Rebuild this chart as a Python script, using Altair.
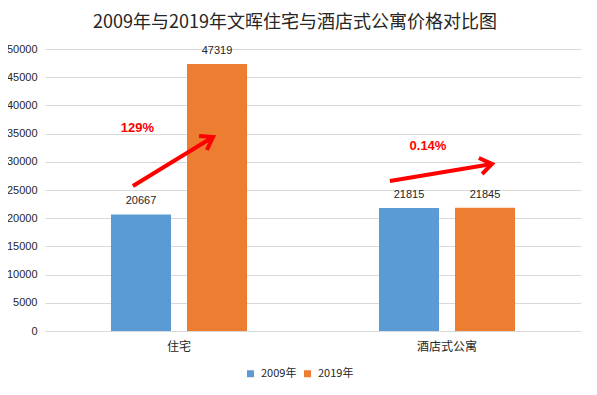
import altair as alt
import pandas as pd

# ---- data ----
categories = ["住宅", "酒店式公寓"]
years = ["2009年", "2019年"]
values_2009 = [20667, 21815]
values_2019 = [47319, 21845]
colors = ["#5b9bd5", "#ed7d31"]
y_ticks = [0, 5000, 10000, 15000, 20000, 25000, 30000, 35000, 40000, 45000, 50000]
title_text = "2009年与2019年文晖住宅与酒店式公寓价格对比图"

# growth annotations (x in category units: 0..2 across the plot)
pct_labels = ["129%", "0.14%"]
pct_x = [0.345, 1.429]
pct_y = [35990, 32800]

# arrow polylines (shaft + open head), x in category units, y in value units
arrow_seg = ["s1", "s1", "h1", "h1", "h1", "s2", "s2", "h2", "h2", "h2"]
arrow_ord = [0, 1, 0, 1, 2, 0, 1, 0, 1, 2]
arrow_x = [0.328, 0.627, 0.575, 0.627, 0.604, 1.287, 1.668, 1.619, 1.668, 1.631]
arrow_y = [25709, 34397, 34574, 34397, 32092, 26596, 29610, 30674, 29610, 27837]

rows = []
for c, v in zip(categories, values_2009):
    rows.append({"cat": c, "year": years[0], "value": v})
for c, v in zip(categories, values_2019):
    rows.append({"cat": c, "year": years[1], "value": v})
df = pd.DataFrame(rows)

pct_df = pd.DataFrame({"label": pct_labels, "px": pct_x, "py": pct_y})
arrow_df = pd.DataFrame({"seg": arrow_seg, "ord": arrow_ord, "ax": arrow_x, "ay": arrow_y})

x_scale = alt.Scale(domain=categories, paddingInner=0, paddingOuter=0)
off_scale = alt.Scale(domain=years, paddingInner=0.2105, paddingOuter=0.868)
y_scale = alt.Scale(domain=[0, 50000], nice=False)
ann_x_scale = alt.Scale(domain=[0, 2], nice=False, zero=False)


def y_axis():
    return alt.Axis(values=y_ticks, format="d", ticks=False, domain=False,
                    gridColor="#d9d9d9", labelFont="Liberation Sans",
                    labelFontSize=11, labelColor="#262626", labelPadding=8)


bars = alt.Chart(df).mark_bar().encode(
    x=alt.X("cat:N", scale=x_scale, sort=categories, title=None,
            axis=alt.Axis(labelAngle=0, ticks=False, domainColor="#d9d9d9",
                          labelFont="Noto Sans CJK SC", labelFontSize=12,
                          labelColor="#262626", labelPadding=10, grid=False)),
    xOffset=alt.XOffset("year:N", scale=off_scale, sort=years),
    y=alt.Y("value:Q", scale=y_scale, title=None, axis=y_axis()),
    color=alt.Color("year:N", scale=alt.Scale(domain=years, range=colors), title=None,
                    legend=alt.Legend(orient="none", legendX=200, legendY=319,
                                      direction="horizontal", symbolType="square",
                                      symbolSize=49, symbolStrokeWidth=0,
                                      labelFont="Noto Sans CJK SC", labelFontSize=11,
                                      labelColor="#262626", labelOffset=5,
                                      columnPadding=5, padding=0)),
)

value_labels = alt.Chart(df).mark_text(
    baseline="middle", dy=-13, font="Liberation Sans", fontSize=11, color="#262626"
).encode(
    x=alt.X("cat:N", scale=x_scale, sort=categories, axis=None),
    xOffset=alt.XOffset("year:N", scale=off_scale, sort=years),
    y=alt.Y("value:Q", scale=y_scale, title=None, axis=y_axis()),
    text=alt.Text("value:Q", format="d"),
)

arrows = alt.Chart(arrow_df).mark_line(
    color="#ff0000", strokeWidth=4, strokeJoin="miter", strokeCap="butt"
).encode(
    x=alt.X("ax:Q", scale=ann_x_scale, axis=None),
    y=alt.Y("ay:Q", scale=y_scale, title=None, axis=y_axis()),
    detail="seg:N",
    order="ord:Q",
)

pct_text = alt.Chart(pct_df).mark_text(
    baseline="middle", align="center", font="Liberation Sans", fontSize=13,
    fontWeight="bold", color="#ff0000"
).encode(
    x=alt.X("px:Q", scale=ann_x_scale, axis=None),
    y=alt.Y("py:Q", scale=y_scale, title=None, axis=y_axis()),
    text="label:N",
)

chart = alt.layer(bars, value_labels, arrows, pct_text).resolve_scale(
    x="independent"
).properties(
    width=536,
    height=282,
    autosize=alt.AutoSizeParams(type="none"),
    padding={"left": 37, "top": 41, "right": 8, "bottom": 50},
    title=alt.TitleParams(title_text, fontSize=18, font="Noto Sans CJK SC",
                          fontWeight="normal", color="#262626", anchor="middle",
                          dx=-18, offset=11),
).configure_view(stroke=None)

chart.save("out.html", embed_options={"renderer": "svg", "actions": False})
